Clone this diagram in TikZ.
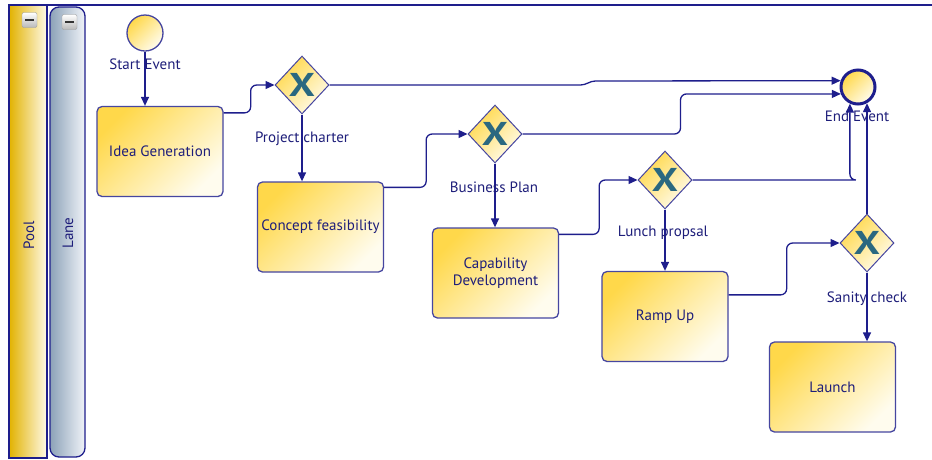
\documentclass[tikz,border=0pt]{standalone}
\usepackage{fontspec}
\usepackage{graphicx}
\setmainfont{PT Sans}
\usetikzlibrary{shapes.geometric,arrows.meta}

\definecolor{navy}{HTML}{1E1E8C}
\definecolor{txtblue}{HTML}{1E1E7A}
\definecolor{edge}{HTML}{4646A0}
\definecolor{gold}{HTML}{FFD84A}
\definecolor{cream}{HTML}{FFFCEE}
\definecolor{xteal}{HTML}{2A6880}
\definecolor{poolgold}{HTML}{E2B200}
\definecolor{poollight}{HTML}{FFFAE8}
\definecolor{lanegrey}{HTML}{8CA2B8}
\definecolor{lanelight}{HTML}{F0F3F8}

\tikzset{
  txt/.style={text=txtblue, font=\fontsize{15}{17}\selectfont},
  task/.style={draw=edge, line width=1.3pt, rounded corners=5pt,
    top color=gold, bottom color=cream, shading angle=45,
    minimum width=126pt, minimum height=90pt, align=center, inner sep=0pt, txt},
  gate/.style={diamond, draw=edge, line width=1pt,
    top color=gold, bottom color=cream, shading angle=45,
    minimum width=54pt, minimum height=58pt, inner sep=0pt},
  xmark/.style={text=xteal, inner sep=0pt,
    font=\fontsize{33}{33}\selectfont\bfseries},
  startev/.style={circle, draw=edge, line width=1.3pt,
    top color=gold, bottom color=cream, shading angle=45,
    minimum size=36pt, inner sep=0pt},
  endev/.style={circle, draw=navy, line width=3pt,
    top color=gold, bottom color=cream, shading angle=45,
    minimum size=34pt, inner sep=0pt},
  flow/.style={draw=navy, line width=1.3pt, rounded corners=6pt,
    -{Triangle[length=9pt,width=8pt]}},
  btn/.style={draw=gray!75, rounded corners=2pt, minimum size=15pt, inner sep=0pt,
    top color=white, bottom color=gray!55,
    path picture={\draw[line width=2.4pt, black!80]
      ([xshift=-4.5pt]path picture bounding box.center) --
      ([xshift=4.5pt]path picture bounding box.center);}},
}

\begin{document}
\begin{tikzpicture}[x=1pt, y=-1pt]
  \useasboundingbox (0,0) rectangle (932,459);
  \fill[white] (0,0) rectangle (932,459);

  % pool frame and pool / lane headers
  \draw[navy, line width=2pt] (9,459) -- (9,5) -- (932,5);
  \path[left color=poolgold, right color=poollight, shading angle=90]
    (9,5) rectangle (47,458);
  \draw[navy, line width=1.2pt] (9,5) rectangle (47,458);
  \draw[navy, line width=2pt] (9,5) -- (9,459);
  \draw[navy, line width=1.3pt, rounded corners=9pt,
        left color=lanegrey, right color=lanelight]
    (50,7) rectangle (85,457);
  \node[txt, rotate=90] (poollbl) at (29,235) {Pool};
  \node[txt, rotate=90] (lanelbl) at (68,233) {Lane};
  \node[btn] (poolbtn) at (29.5,20) {};
  \node[btn] (lanebtn) at (69.5,22) {};

  % events, tasks and gateways
  \node[startev] (start) at (145,33) {};
  \node[endev] (end) at (858,87) {};
  \node[task] (idea) at (160,151.5) {Idea Generation};
  \node[task] (concept) at (320.5,227) {Concept feasibility};
  \node[task] (cap) at (495.5,273) {Capability\\Development};
  \node[task] (ramp) at (665,316.5) {Ramp Up};
  \node[task] (launch) at (832.5,387) {Launch};
  \node[gate] (g1) at (302,85) {};
  \node[gate] (g2) at (495,134) {};
  \node[gate] (g3) at (665,180) {};
  \node[gate] (g4) at (867,243) {};
  \foreach \g in {g1,g2,g3,g4}
    \node[xmark] (\g x) at (\g) {\scalebox{1.25}[1]{X}};

  % sequence flows
  \draw[flow] (start.south) -- (start.south |- idea.north);
  \draw[flow] ([yshift=-7pt]idea.north east) -- ++(27,0) |- (g1.west);
  \draw[flow] (g1.south) -- (g1.south |- concept.north);
  \draw[flow] ([yshift=-6pt]concept.north east) -- ++(42,0) |- (g2.west);
  \draw[flow] (g2.south) -- (g2.south |- cap.north);
  \draw[flow] ([yshift=-7pt]cap.north east) -- ++(40,0) |- (g3.west);
  \draw[flow] (g3.south) -- (g3.south |- ramp.north);
  \draw[flow] ([yshift=-24pt]ramp.north east) -- ++(58,0) |- (g4.west);
  \draw[flow] (g4.south) -- (g4.south |- launch.north);

  \draw[flow, rounded corners=4pt] (g1.east) -- ++(255,0) -- ++(7,-4) -- (end.160);
  \draw[flow] (g2.east) -- ++(158,0) |- (end.202);
  \draw[flow] (g3.east) -- ++(158,0) -| (end.-116);
  \draw[flow] (g4.north) -- (g4.north |- end.-61);

  % labels
  \node[txt] (startlbl) at (145,64) {Start Event};
  \node[txt] (endlbl) at (857,116) {End Event};
  \node[txt] (g1lbl) at (302,139) {Project charter};
  \node[txt] (g2lbl) at (494,187) {Business Plan};
  \node[txt] (g3lbl) at (663,233) {Lunch propsal};
  \node[txt] (g4lbl) at (867,299) {Sanity check};
\end{tikzpicture}
\end{document}
